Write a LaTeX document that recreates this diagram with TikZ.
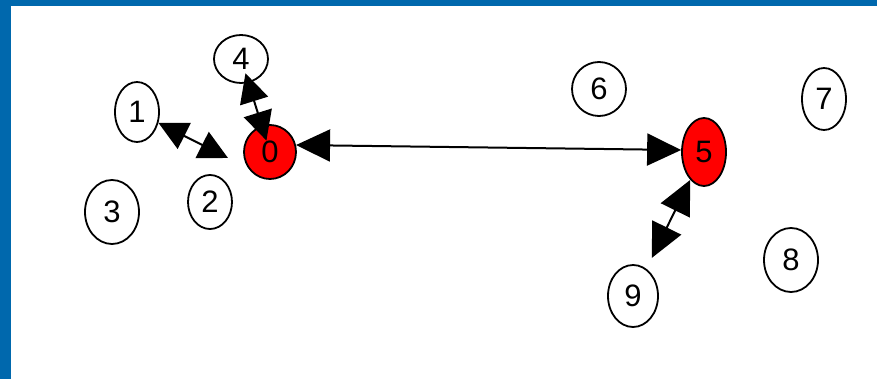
\documentclass[tikz,border=0pt]{standalone}
\usepackage{fontspec}
\setmainfont{Liberation Sans}
\usetikzlibrary{arrows.meta,shapes.geometric}
\definecolor{frameblue}{HTML}{0068AD}
\tikzset{
  vtx/.style={draw=black, line width=1.8pt, ellipse, inner sep=0pt, fill=white,
              font=\fontsize{31}{31}\selectfont},
  hot/.style={vtx, fill=red},
  link/.style={line width=2pt, {Triangle[length=34pt,width=32pt]}-{Triangle[length=34pt,width=32pt]}},
  shortlink/.style={line width=2pt, {Triangle[length=29pt,width=29pt]}-{Triangle[length=29pt,width=29pt]}}
}
\begin{document}
\begin{tikzpicture}[x=1pt,y=-1pt]
  \useasboundingbox (0,0) rectangle (877,379);
  \fill[white] (0,0) rectangle (877,379);
  % blue frame along the top and left edges
  \fill[frameblue] (0,0) rectangle (877,6);
  \fill[frameblue] (0,0) rectangle (11,379);

  % vertices
  \node[hot, minimum width=52pt, minimum height=54pt] (0) at (270,152) {0};
  \node[vtx, minimum width=44pt, minimum height=60pt] (1) at (137,112) {1};
  \node[vtx, minimum width=44pt, minimum height=54pt] (2) at (210,202) {2};
  \node[vtx, minimum width=54pt, minimum height=64pt] (3) at (112,212) {3};
  \node[vtx, minimum width=54pt, minimum height=48pt] (4) at (241,59) {4};
  \node[hot, minimum width=44pt, minimum height=68pt] (5) at (704,152) {5};
  \node[vtx, minimum width=54pt, minimum height=54pt] (6) at (599,89) {6};
  \node[vtx, minimum width=44pt, minimum height=62pt] (7) at (824,99) {7};
  \node[vtx, minimum width=54pt, minimum height=64pt] (8) at (791,260) {8};
  \node[vtx, minimum width=50pt, minimum height=62pt] (9) at (633,296) {9};

  % free end of the link leaving vertex 1
  \coordinate (e1) at (228,158);

  % links
  \draw[shortlink] (1) -- (e1);
  \draw[shortlink, shorten <=15pt, shorten >=12pt] (4.center) -- (0.center);
  \draw[link] (0.15) -- (5.175);
  \draw[link, shorten >=12pt] (5) -- (9);
\end{tikzpicture}
\end{document}
